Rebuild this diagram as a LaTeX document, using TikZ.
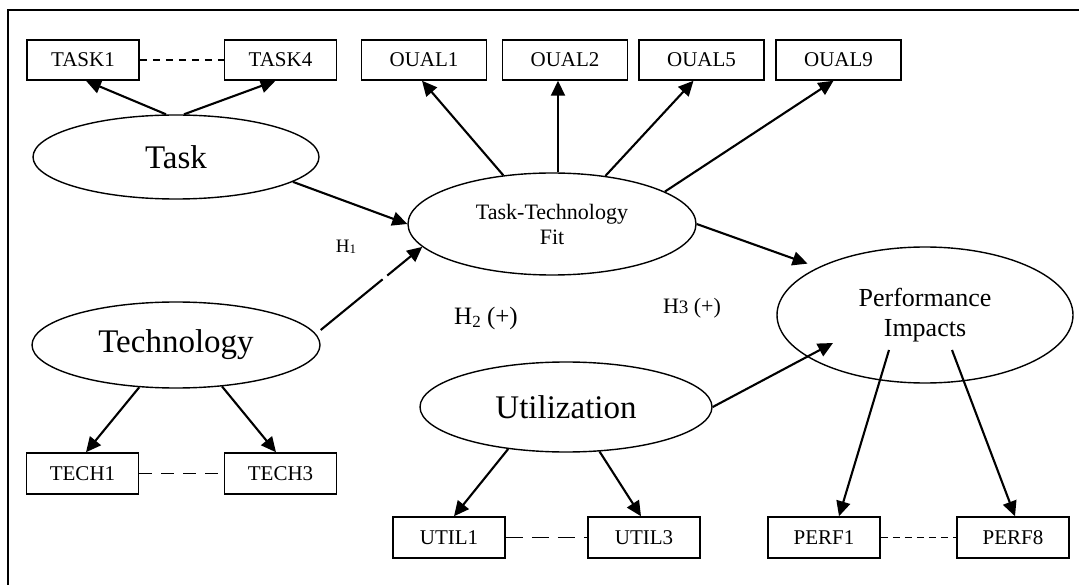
\documentclass[tikz,border=0pt]{standalone}
\usepackage{fontspec}
\setmainfont{Liberation Serif}
\usetikzlibrary{shapes.geometric,arrows.meta,calc}

\tikzset{
  indicator/.style={draw, rectangle, line width=1.5pt, inner sep=0pt,
    minimum height=40pt, font=\fontsize{21}{25}\selectfont},
  narrowbox/.style={indicator, minimum width=112pt},
  widebox/.style={indicator, minimum width=125pt},
  construct/.style={draw, ellipse, line width=1.4pt, inner sep=0pt, align=center},
  arr/.style={line width=2.1pt, -{Triangle[length=15pt,width=14pt]}},
  link/.style={line width=1.6pt},
  hyp/.style={inner sep=0pt}
}

\begin{document}
\begin{tikzpicture}[x=1pt,y=-1pt]
\useasboundingbox (0,0) rectangle (1079,585);

% outer frame
\draw[line width=1.8pt] (8,585) -- (8,10) -- (1079,10);

% latent constructs
\node[construct, minimum width=286pt, minimum height=84pt,
      font=\fontsize{33}{38}\selectfont] (task) at (176,157) {Task};
\node[construct, minimum width=288pt, minimum height=86pt,
      font=\fontsize{33}{38}\selectfont] (tech) at (176,345) {Technology};
\node[construct, minimum width=288pt, minimum height=102pt,
      font=\fontsize{22}{25}\selectfont] (ttf) at (552,224) {Task-Technology\\Fit};
\node[construct, minimum width=292pt, minimum height=90pt,
      font=\fontsize{33}{38}\selectfont] (util) at (566,407) {Utilization};
\node[construct, minimum width=296pt, minimum height=136pt,
      font=\fontsize{26}{30}\selectfont] (pi) at (925,315) {Performance\\Impacts};

% indicators
\node[narrowbox] (task1) at (83,60) {TASK1};
\node[narrowbox] (task4) at (280.5,60) {TASK4};
\node[widebox] (oual1) at (424,60) {OUAL1};
\node[widebox] (oual2) at (565,60) {OUAL2};
\node[widebox] (oual5) at (701.5,60) {OUAL5};
\node[widebox] (oual9) at (838.5,60) {OUAL9};
\node[narrowbox, minimum height=41pt] (tech1) at (82.5,473.5) {TECH1};
\node[narrowbox, minimum height=41pt] (tech3) at (280.5,473.5) {TECH3};
\node[narrowbox, minimum height=41pt] (util1) at (449,537.5) {UTIL1};
\node[narrowbox, minimum height=41pt] (util3) at (644,537.5) {UTIL3};
\node[narrowbox, minimum height=41pt] (perf1) at (824,537.5) {PERF1};
\node[narrowbox, minimum height=41pt] (perf8) at (1013,537.5) {PERF8};

% hypothesis labels
\node[hyp, font=\fontsize{19}{22}\selectfont] (h1) at (346,247)
  {H\raisebox{-1pt}{\fontsize{13}{13}\selectfont 1}};
\node[hyp, font=\fontsize{25}{28}\selectfont] (h2) at (486,318)
  {H\raisebox{-3pt}{\fontsize{17}{17}\selectfont 2} (+)};
\node[hyp, font=\fontsize{22}{26}\selectfont] (h3) at (692,308)
  {H{\fontsize{19}{19}\selectfont 3} (+)};

% correlations between indicators
\draw[link, dash pattern=on 7pt off 6pt] (task1) -- (task4);
\draw[link, dash pattern=on 13pt off 9pt] (tech1) -- (tech3);
\draw[link, dash pattern=on 17pt off 9pt] (util1) -- (util3);
\draw[link, dash pattern=on 7pt off 5pt] (perf1) -- (perf8);

% reflective indicators
\draw[arr] ([xshift=-10pt]task.north) -- ([xshift=3pt]task1.south);
\draw[arr] ([xshift=8pt]task.north) -- ([xshift=-5pt]task4.south);
\draw[arr] (tech.229) -- ([xshift=3.5pt]tech1.north);
\draw[arr] (tech.-42) -- ([xshift=-4.5pt]tech3.north);
\draw[arr] (ttf.135) -- ([xshift=-2pt]oual1.south);
\draw[arr] ([xshift=6pt]ttf.north) -- ([xshift=-7pt]oual2.south);
\draw[arr] (ttf.42) -- ([xshift=-8pt]oual5.south);
\draw[arr] (ttf.16) -- ([xshift=-5pt]oual9.south);
\draw[arr] (util.216) -- ([xshift=5pt]util1.north);
\draw[arr] (util.-53) -- ([xshift=-3pt]util3.north);
\draw[arr] ([xshift=-36pt,yshift=-35pt]pi.center) -- ([xshift=15pt]perf1.north);
\draw[arr] ([xshift=27pt,yshift=-35pt]pi.center) -- ([xshift=2pt]perf8.north);

% structural paths
\draw[arr] (task.-12) -- (ttf.west);
\draw[arr, dash pattern=on 80pt off 6pt on 200pt] ([yshift=15pt]tech.east) -- (ttf.190);
\draw[arr, shorten >=11pt] (ttf.east) -- (pi.156);
\draw[arr] (util.east) -- ([xshift=-92pt,yshift=-28pt]pi.center);
\end{tikzpicture}
\end{document}
